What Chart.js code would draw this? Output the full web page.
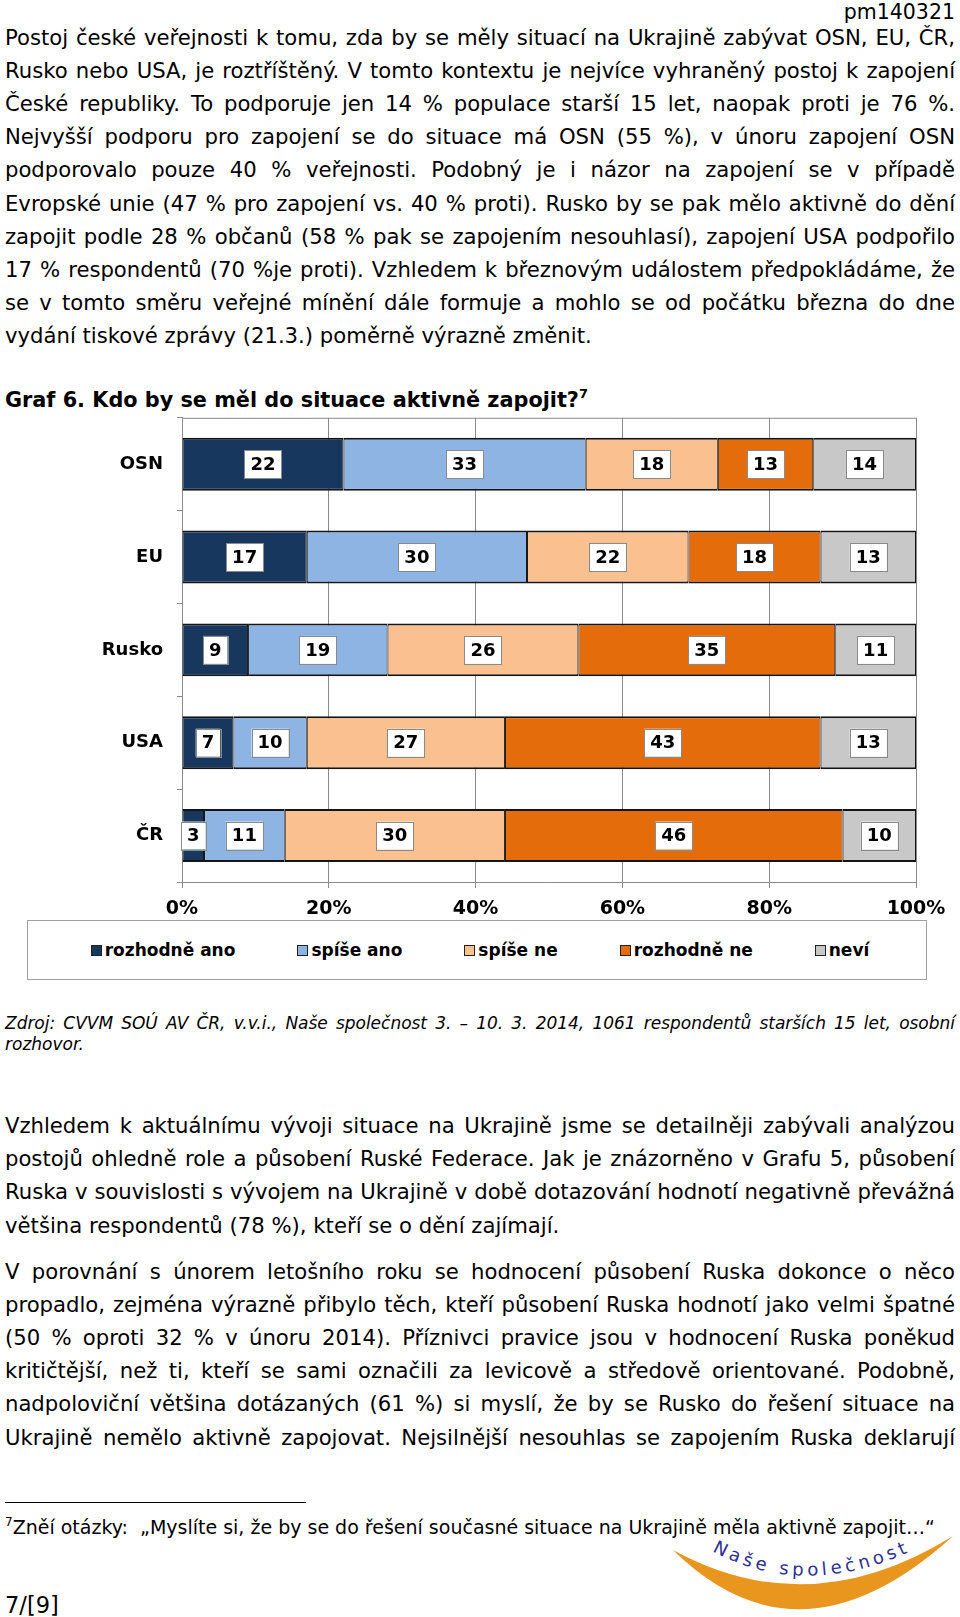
<!DOCTYPE html>
<html>
<head>
<meta charset="utf-8">
<script src="https://cdn.jsdelivr.net/npm/chart.js@4"></script>
<style>
  html, body { margin:0; padding:0; background:#fff; }
  body { width:960px; height:1617px; position:relative; overflow:hidden; font-family:"DejaVu Sans", Verdana, sans-serif; color:#000; }
  .abs { position:absolute; }
  .para { position:absolute; left:5px; width:950px; font-size:21.2px; line-height:33.2px; }
  .fitline { text-align:justify; text-align-last:justify; white-space:nowrap; }
  .para div.last { text-align:left; text-align-last:left; }
  #legend { position:absolute; left:27px; top:920px; width:892px; height:58px; border:1px solid #a0a0a0; display:flex; justify-content:center; align-items:center; gap:62px; padding-left:6px; box-sizing:content-box; font-weight:bold; font-size:17px; }
  #legend .item { display:flex; align-items:center; }
  #legend .sw { width:9px; height:9px; border:1px solid #222; margin-right:3px; }
</style>
</head>
<body>
<div class="abs" style="right:5px; top:0px; font-size:20.5px; line-height:24px;">pm140321</div>

<div class="para" style="top:20.5px;">
  <div class="fitline">Postoj české veřejnosti k tomu, zda by se měly situací na Ukrajině zabývat OSN, EU, ČR,</div>
  <div class="fitline">Rusko nebo USA, je roztříštěný. V tomto kontextu je nejvíce vyhraněný postoj k zapojení</div>
  <div class="fitline">České republiky. To podporuje jen 14 % populace starší 15 let, naopak proti je 76 %.</div>
  <div class="fitline">Nejvyšší podporu pro zapojení se do situace má OSN (55 %), v únoru zapojení OSN</div>
  <div class="fitline">podporovalo pouze 40 % veřejnosti. Podobný je i názor na zapojení se v případě</div>
  <div class="fitline">Evropské unie (47 % pro zapojení vs. 40 % proti). Rusko by se pak mělo aktivně do dění</div>
  <div class="fitline">zapojit podle 28 % občanů (58 % pak se zapojením nesouhlasí), zapojení USA podpořilo</div>
  <div class="fitline">17 % respondentů (70 %je proti). Vzhledem k březnovým událostem předpokládáme, že</div>
  <div class="fitline">se v tomto směru veřejné mínění dále formuje a mohlo se od počátku března do dne</div>
  <div class="last">vydání tiskové zprávy (21.3.) poměrně výrazně změnit.</div>
</div>

<div class="abs" style="left:5px; top:387px; font-size:20.8px; font-weight:bold; line-height:26px; white-space:nowrap;">Graf 6. Kdo by se měl do situace aktivně zapojit?<sup style="font-size:13px; line-height:0; vertical-align:9px;">7</sup></div>

<div class="abs" style="left:0; top:393px; width:960px; height:527px;">
  <canvas id="chart"></canvas>
</div>
<div id="legend"></div>

<div class="abs" style="left:5px; width:950px; top:1013px; font-size:17px; font-style:italic; line-height:21px;">
  <div class="fitline">Zdroj: CVVM SOÚ AV ČR, v.v.i., Naše společnost 3. – 10. 3. 2014, 1061 respondentů starších 15 let, osobní</div>
  <div>rozhovor.</div>
</div>

<div class="para" style="top:1109px;">
  <div class="fitline">Vzhledem k aktuálnímu vývoji situace na Ukrajině jsme se detailněji zabývali analýzou</div>
  <div class="fitline">postojů ohledně role a působení Ruské Federace. Jak je znázorněno v Grafu 5, působení</div>
  <div class="fitline">Ruska v souvislosti s vývojem na Ukrajině v době dotazování hodnotí negativně převážná</div>
  <div class="last">většina respondentů (78 %), kteří se o dění zajímají.</div>
</div>

<div class="para" style="top:1254.5px;">
  <div class="fitline">V porovnání s únorem letošního roku se hodnocení působení Ruska dokonce o něco</div>
  <div class="fitline">propadlo, zejména výrazně přibylo těch, kteří působení Ruska hodnotí jako velmi špatné</div>
  <div class="fitline">(50 % oproti 32 % v únoru 2014). Příznivci pravice jsou v hodnocení Ruska poněkud</div>
  <div class="fitline">kritičtější, než ti, kteří se sami označili za levicově a středově orientované. Podobně,</div>
  <div class="fitline">nadpoloviční většina dotázaných (61 %) si myslí, že by se Rusko do řešení situace na</div>
  <div class="fitline">Ukrajině nemělo aktivně zapojovat. Nejsilnější nesouhlas se zapojením Ruska deklarují</div>
</div>

<div class="abs" style="left:5px; top:1502px; width:301px; height:0; border-top:1px solid #000;"></div>
<div class="abs" style="left:5px; top:1514px; font-size:19px; line-height:26px; white-space:nowrap;"><sup style="font-size:12px; line-height:0; vertical-align:8px;">7</sup>Zněí otázky:&nbsp; „Myslíte si, že by se do řešení současné situace na Ukrajině měla aktivně zapojit…“</div>
<div class="abs" style="left:5px; top:1591px; font-size:22.5px; line-height:28px;">7/[9]</div>

<svg class="abs" style="left:660px; top:1530px;" width="300" height="87" viewBox="0 0 300 87">
  <path d="M13,20 Q140,145 293,6 Q150,95 13,20 Z" fill="#E8961E"/>
  <path id="arc" d="M52,21 Q150,74 268,13" fill="none"/>
  <text font-family="DejaVu Sans" font-size="18" fill="#2E3192" letter-spacing="4"><textPath href="#arc">Naše společnost</textPath></text>
</svg>

<script>
const categories = ['OSN', 'EU', 'Rusko', 'USA', 'ČR'];
const seriesNames = ['rozhodně ano', 'spíše ano', 'spíše ne', 'rozhodně ne', 'neví'];
const rozhodneAno = [22, 17, 9, 7, 3];
const spiseAno = [33, 30, 19, 10, 11];
const spiseNe = [18, 22, 26, 27, 30];
const rozhodneNe = [13, 18, 35, 43, 46];
const nevi = [14, 13, 11, 13, 10];
const xTickLabels = ['0%', '20%', '40%', '60%', '80%', '100%'];
const seriesColors = ['#17375E', '#8DB4E2', '#FAC090', '#E46C0A', '#C8C8C8'];

const seriesValues = [rozhodneAno, spiseAno, spiseNe, rozhodneNe, nevi];

// fit justified lines into the text width
document.querySelectorAll('.fitline').forEach(div => {
  const span = document.createElement('span');
  span.textContent = div.textContent;
  div.textContent = '';
  div.appendChild(span);
  const avail = div.clientWidth;
  const w = span.getBoundingClientRect().width;
  if (w > avail - 2) {
    const n = span.textContent.length;
    div.style.letterSpacing = ((avail - 2 - w) / n) + 'px';
  }
});

// HTML legend
const legendEl = document.getElementById('legend');
seriesNames.forEach((name, i) => {
  const item = document.createElement('div');
  item.className = 'item';
  const sw = document.createElement('span');
  sw.className = 'sw';
  sw.style.background = seriesColors[i];
  const t = document.createElement('span');
  t.textContent = name;
  item.appendChild(sw); item.appendChild(t);
  legendEl.appendChild(item);
});

const framePlugin = {
  id: 'frame',
  beforeDatasetsDraw(chart) {
    const {ctx, chartArea} = chart;
    ctx.save();
    ctx.strokeStyle = '#8a8a8a';
    ctx.lineWidth = 1;
    ctx.beginPath();
    ctx.moveTo(chartArea.left, chartArea.top + 0.5);
    ctx.lineTo(chartArea.right, chartArea.top + 0.5);
    ctx.stroke();
    ctx.restore();
  }
};

const labelPlugin = {
  id: 'boxLabels',
  afterDatasetsDraw(chart) {
    const ctx = chart.ctx;
    ctx.save();
    ctx.font = 'bold 18px "DejaVu Sans"';
    ctx.textAlign = 'center';
    ctx.textBaseline = 'middle';
    chart.data.datasets.forEach((ds, i) => {
      const meta = chart.getDatasetMeta(i);
      meta.data.forEach((el, j) => {
        const txt = String(ds.data[j]);
        const cx = (el.x + el.base) / 2;
        const cy = el.y;
        const w = ctx.measureText(txt).width + 12;
        const h = 28;
        ctx.fillStyle = '#fff';
        ctx.fillRect(cx - w / 2, cy - h / 2, w, h);
        ctx.strokeStyle = '#8a8a8a';
        ctx.lineWidth = 1;
        ctx.strokeRect(Math.round(cx - w / 2) + 0.5, Math.round(cy - h / 2) + 0.5, Math.round(w), h);
        ctx.fillStyle = '#000';
        ctx.fillText(txt, cx, cy + 1);
      });
    });
    ctx.restore();
  }
};

new Chart(document.getElementById('chart'), {
  type: 'bar',
  data: {
    labels: categories,
    datasets: seriesNames.map((name, i) => ({
      label: name,
      data: seriesValues[i],
      backgroundColor: seriesColors[i],
      borderColor: '#151515',
      borderWidth: {top: 2, bottom: 2, left: 1, right: 1},
      borderSkipped: false,
      barPercentage: 0.57,
      categoryPercentage: 1
    }))
  },
  options: {
    indexAxis: 'y',
    responsive: true,
    maintainAspectRatio: false,
    animation: false,
    devicePixelRatio: 1,
    layout: { padding: { top: 0, right: 44, left: 0, bottom: 0 } },
    plugins: { legend: { display: false }, tooltip: { enabled: false } },
    scales: {
      x: {
        stacked: true,
        min: 0, max: 100,
        ticks: {
          stepSize: 20,
          padding: 10,
          color: '#000',
          font: { family: 'DejaVu Sans', size: 19, weight: 'bold' },
          callback: (v, i) => xTickLabels[i]
        },
        grid: { color: '#8a8a8a', lineWidth: 1, tickLength: 6, drawTicks: true },
        border: { display: true, color: '#8a8a8a', width: 1 },
        afterFit: (scale) => { scale.height = 38; }
      },
      y: {
        stacked: true,
        ticks: {
          padding: 14,
          color: '#000',
          font: { family: 'DejaVu Sans', size: 18, weight: 'bold' }
        },
        grid: { drawOnChartArea: false, offset: true, color: '#8a8a8a', tickLength: 5 },
        border: { display: true, color: '#8a8a8a', width: 1 },
        afterFit: (scale) => { scale.width = 182; }
      }
    }
  },
  plugins: [framePlugin, labelPlugin]
});
</script>
</body>
</html>
